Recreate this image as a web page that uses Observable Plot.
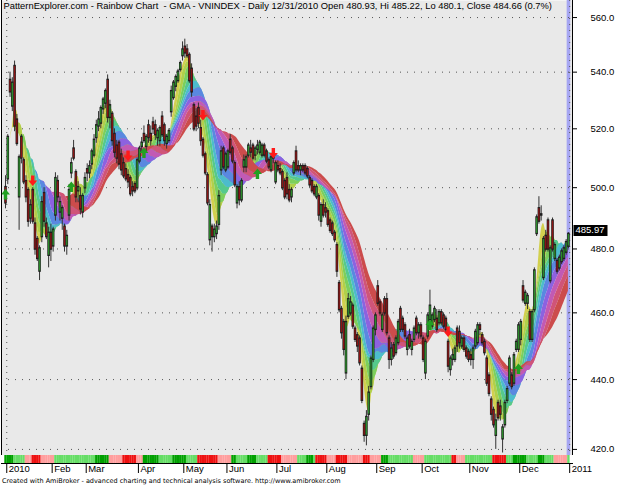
<!DOCTYPE html>
<html><head><meta charset="utf-8">
<script src="https://cdn.jsdelivr.net/npm/d3@7"></script>
<script src="https://cdn.jsdelivr.net/npm/@observablehq/plot@0.6"></script>
<style>
body{margin:0;background:#fff;font-family:"Liberation Sans",Arial,sans-serif}
#chart svg{display:block}
.caption{font-size:6.5px;height:10px;line-height:10px;padding-left:2px;color:#000;white-space:nowrap;font-family:"DejaVu Sans",sans-serif}
</style></head><body><div id="chart"></div><script>
const title = "PatternExplorer.com - Rainbow Chart  - GMA - VNINDEX - Daily 12/31/2010 Open 480.93, Hi 485.22, Lo 480.1, Close 484.66 (0.7%)";
const caption = "Created with AmiBroker - advanced charting and technical analysis software. http://www.amibroker.com";
const opens = [500,503,537,528,542,523,497,517,509,502,499,490,499,488,483,473,484,498,488,478,
485,481,491,502,492,490,487,481,491,505,513,505,499,497,492,500,506,505,508,511,
517,521,522,527,529,537,524,525,518,514,515,511,508,506,504,503,500,501,500,509,
514,518,514,521,518,522,521,517,516,524,521,515,516,526,531,535,537,541,546,549,
548,546,541,528,524,527,520,516,511,504,483,487,484,485,488,506,513,506,507,516,
513,508,495,500,496,507,507,511,513,514,511,513,512,511,514,512,509,506,510,502,
507,506,505,502,503,499,497,505,512,507,506,507,507,506,503,502,500,497,497,489,
494,493,492,489,488,485,481,469,461,457,442,459,460,462,455,453,452,443,427,424,
430,438,446,455,468,463,455,464,464,452,446,450,448,451,461,458,456,449,453,449,
452,458,454,456,452,442,453,458,456,458,458,457,460,459,458,451,443,446,446,455,
454,450,452,449,448,447,446,450,451,456,453,451,446,441,434,431,424,433,432,423,
427,434,439,441,439,449,449,452,468,463,463,460,452,461,485,493,491,471,484,489,
470,489,477,476,474,476,477,479,480.93];
const highs = [504,518,540,538,544,525,511,518,510,504,500,496,500,490,484,481,497,500,490,487,
488,487,505,504,497,494,488,486,501,510,516,506,502,500,498,505,508,509,513,518,
523,526,528,531,534,539,530,526,520,516,516,513,510,508,506,504,502,502,510,514,
517,521,518,523,521,524,523,520,521,526,522,518,520,535,537,539,541,544,551,552,
550,547,543,529,527,529,523,517,512,505,496,488,488,489,499,514,514,512,513,518,
514,509,501,502,503,511,511,515,516,515,514,516,516,515,515,513,510,511,512,509,
509,508,506,503,505,501,500,509,514,509,508,508,508,507,504,503,501,501,498,495,
496,495,493,490,489,486,482,470,462,458,459,466,465,463,456,454,453,444,428,431,
438,447,456,460,470,464,460,465,466,453,451,451,453,458,462,459,457,453,455,452,
456,459,457,457,453,452,460,467,460,462,461,461,461,460,459,452,447,449,450,456,
456,453,453,450,449,449,450,455,457,457,454,452,447,442,435,432,430,434,434,427,
434,438,447,442,448,452,457,458,470,467,466,461,461,474,491,497,494,484,486,490,
481,490,482,477,478,480,481,483,485.22];
const lows = [493,501,531,526,519,514,486,508,501,495,487,488,488,478,476,470,482,487,483,474,
476,479,489,495,489,486,479,478,489,503,509,495,495,491,490,498,502,503,506,510,
515,519,520,525,527,522,520,514,510,508,506,504,503,502,500,497,497,498,499,508,
512,515,512,515,514,518,516,514,514,517,514,513,515,524,530,533,536,540,544,545,
545,536,531,519,519,520,514,510,504,494,481,479,482,483,486,504,506,505,506,511,
508,500,493,494,495,505,505,510,510,509,509,511,511,510,510,508,506,505,508,501,
505,504,499,496,496,495,495,504,505,505,504,505,504,503,500,498,497,496,489,487,
490,490,487,485,484,482,471,460,452,447,440,458,459,455,451,448,444,433,422,421,
428,437,445,453,462,459,454,459,453,443,444,446,447,450,454,454,452,447,449,447,
451,453,452,452,445,440,452,455,455,457,454,456,456,455,454,442,441,444,445,448,
449,449,448,446,445,444,443,449,450,453,450,447,438,435,428,426,420,428,428,419,
426,433,438,437,438,448,448,450,463,462,461,451,451,460,484,488,489,470,479,479,
469,479,476,472,473,475,476,478,480.1];
const closes = [495,517,533,536,521,515,510,510,502,497,489,494,489,480,477,480,495,489,484,485,
480,486,503,497,495,493,481,484,499,508,510,497,500,493,497,503,505,507,512,516,
521,523,527,530,533,524,528,516,512,510,508,506,504,503,502,498,499,499,509,513,
515,516,517,517,516,520,518,519,520,518,516,517,519,533,536,538,540,543,548,547,
546,537,533,520,521,522,516,511,505,495,494,484,486,487,497,512,507,511,512,512,
509,501,500,496,502,509,510,514,512,510,513,514,515,514,511,509,507,510,510,508,
506,505,500,497,498,496,499,508,506,506,507,506,505,504,501,499,498,500,491,494,
491,492,488,486,485,483,473,461,454,449,457,464,463,456,452,450,445,434,424,429,
436,446,455,459,463,460,459,460,454,446,449,447,452,457,455,455,453,452,450,451,
455,454,456,453,446,451,459,462,459,461,455,460,457,456,455,444,446,447,449,450,
451,452,449,447,446,446,449,454,456,455,451,448,439,436,430,427,428,429,430,426,
433,437,446,438,447,451,456,457,464,466,465,452,460,473,490,489,491,483,480,480,
480,480,481,473,477,479,480,482,484.66];

const monthStarts = [1,21,36,59,79,98,120,142,164,184,205,227,249];
const monthLabels = ["2010","Feb","Mar","Apr","May","Jun","Jul","Aug","Sep","Oct","Nov","Dec","2011"];
const yearLines = [1,249];
const priceTicks = [420,440,460,480,500,520,540,560];
const maPeriods = [4,6,8,10,12,14,17,20,23,26,30];
const bandColors = ["#d2d04e","#b0d04a","#7ccf5c","#55c98c","#4cbccc","#5a88e0","#8c62e0","#c25ab4","#d05478","#cc4c4c"];
const buyBars = [0,29,61,111,187,226];
const buyPrices = [497.7,500.2,511.7,504.6,456.3,443.1];
const sellBars = [12,54,87,118,195];
const sellPrices = [502.4,510.8,524.8,511.7,454.3];
const stripRunStart = [0,4,9,12,16,22,40,46,52,58,61,68,74,80,85,94,100,102,107,111,116,122,129,133,136,137,142,146,151,158,161,166,169,180,185,197,199,203,215,221,224,230,235,238,242,248];
const stripRunState = ["G","g","p","R","p","g","G","p","R","p","G","g","G","g","R","p","G","g","G","g","R","p","g","G","g","R","p","R","p","R","p","G","g","p","g","R","p","g","R","g","G","g","G","g","p","g"];
const lastPrice = 485.97;

const stripColor = {G: "#00a000", g: "#66dd66", p: "#ff9e9e", R: "#ee1111"};
const upColor = "#2b8a2b", downColor = "#8a1515";

const bars = closes.map((c, i) => ({i, o: opens[i], h: highs[i], l: lows[i], c}));
const buys = buyBars.map((b, k) => ({i: b, p: buyPrices[k]}));
const sells = sellBars.map((b, k) => ({i: b, p: sellPrices[k]}));
const stripBars = bars.map(d => {
  let s = stripRunState[0];
  for (let k = 0; k < stripRunStart.length; k++) if (stripRunStart[k] <= d.i) s = stripRunState[k];
  return {i: d.i, s};
});
const labelOf = new Map(monthStarts.map((m, k) => [m, monthLabels[k]]));
const xDomain = [-1.76, 249.8];

const upArrow = {draw(c) {c.moveTo(0,-5.5);c.lineTo(4.5,0);c.lineTo(1.7,0);c.lineTo(1.7,5);c.lineTo(-1.7,5);c.lineTo(-1.7,0);c.lineTo(-4.5,0);c.closePath();}};
const downArrow = {draw(c) {c.moveTo(0,5.5);c.lineTo(4.5,0);c.lineTo(1.7,0);c.lineTo(1.7,-5);c.lineTo(-1.7,-5);c.lineTo(-1.7,0);c.lineTo(-4.5,0);c.closePath();}};
const priceBox = {draw(c) {c.moveTo(-17,-5.5);c.lineTo(17,-5.5);c.lineTo(17,5.5);c.lineTo(-17,5.5);c.closePath();}};

const bandMarks = bandColors.map((col, k) => Plot.areaY(bars, Plot.map(
  {y1: Plot.window({k: maPeriods[k], anchor: "end", reduce: "mean"}),
   y2: Plot.window({k: maPeriods[k + 1], anchor: "end", reduce: "mean"})},
  {x: "i", y1: "c", y2: "c", fill: col, curve: "monotone-x"})));

const main = Plot.plot({
  width: 620, height: 455,
  marginTop: 0, marginBottom: 0, marginLeft: 1, marginRight: 48,
  x: {domain: xDomain, axis: null},
  y: {type: "log", domain: [418.3, 566.4]},
  color: {type: "identity"},
  style: {fontFamily: "'Liberation Sans', Arial, sans-serif", background: "#fff"},
  marks: [
    Plot.frame({fill: "#e9e9e9"}),
    Plot.ruleX([closes.length - 1], {x: d => d, stroke: "#a6a6f2", strokeWidth: 3.5}),
    Plot.ruleY(priceTicks, {stroke: "#555", strokeDasharray: "1,6"}),
    Plot.ruleX(yearLines, {stroke: "#555", strokeDasharray: "1,5", dx: -1}),
    ...bandMarks,
    Plot.ruleX(bars, {x: "i", y1: "l", y2: "h", stroke: "#333", strokeWidth: 1}),
    Plot.ruleX(bars, {x: "i", y1: "o", y2: "c", stroke: "#1e1e1e", strokeWidth: 2.6, strokeLinecap: "square"}),
    Plot.ruleX(bars, {x: "i", y1: "o", y2: "c", stroke: d => d.c >= d.o ? upColor : downColor, strokeWidth: 1.4}),
    Plot.dot(buys, {x: "i", y: "p", symbol: upArrow, fill: "#22a022", stroke: null}),
    Plot.dot(sells, {x: "i", y: "p", symbol: downArrow, fill: "#ff1a1a", stroke: null}),
    Plot.text([title], {frameAnchor: "top-left", dx: 2, dy: 2, lineAnchor: "top", text: d => d, fontSize: 9.35, fill: "#000"}),
    Plot.axisY(priceTicks, {anchor: "right", tickFormat: d3.format(".1f"), tickSize: 4, tickPadding: 14, fontSize: 9.5, label: null}),
    Plot.dot([lastPrice], {y: d => d, frameAnchor: "right", dx: 18, symbol: priceBox, fill: "#000", stroke: null}),
    Plot.text([lastPrice], {y: d => d, frameAnchor: "right", dx: 3, textAnchor: "start", text: d => d.toFixed(2), fill: "#fff", fontSize: 9.5}),
    Plot.frame({anchor: "right", stroke: "#000"}),
    Plot.frame({anchor: "left", stroke: "#000"})
  ]
});

const strip = Plot.plot({
  width: 620, height: 21,
  marginTop: 0, marginBottom: 13, marginLeft: 1, marginRight: 48,
  x: {domain: xDomain},
  color: {type: "identity"},
  style: {fontFamily: "'Liberation Sans', Arial, sans-serif", background: "#fff"},
  marks: [
    Plot.tickX(stripBars, {x: "i", stroke: d => stripColor[d.s], strokeWidth: 2.4}),
    Plot.frame({anchor: "bottom", stroke: "#000"}),
    Plot.axisX(monthStarts, {tickSize: 10, tickFormat: () => "", dx: -1, label: null}),
    Plot.axisX(monthStarts, {tickSize: 0, tickPadding: 2, tickFormat: d => labelOf.get(d), textAnchor: "start", dx: 1, fontSize: 9.5, label: null})
  ]
});

const el = document.getElementById("chart");
el.appendChild(main);
el.appendChild(strip);
const cap = document.createElement("div");
cap.className = "caption";
cap.textContent = caption;
el.appendChild(cap);
</script></body></html>
